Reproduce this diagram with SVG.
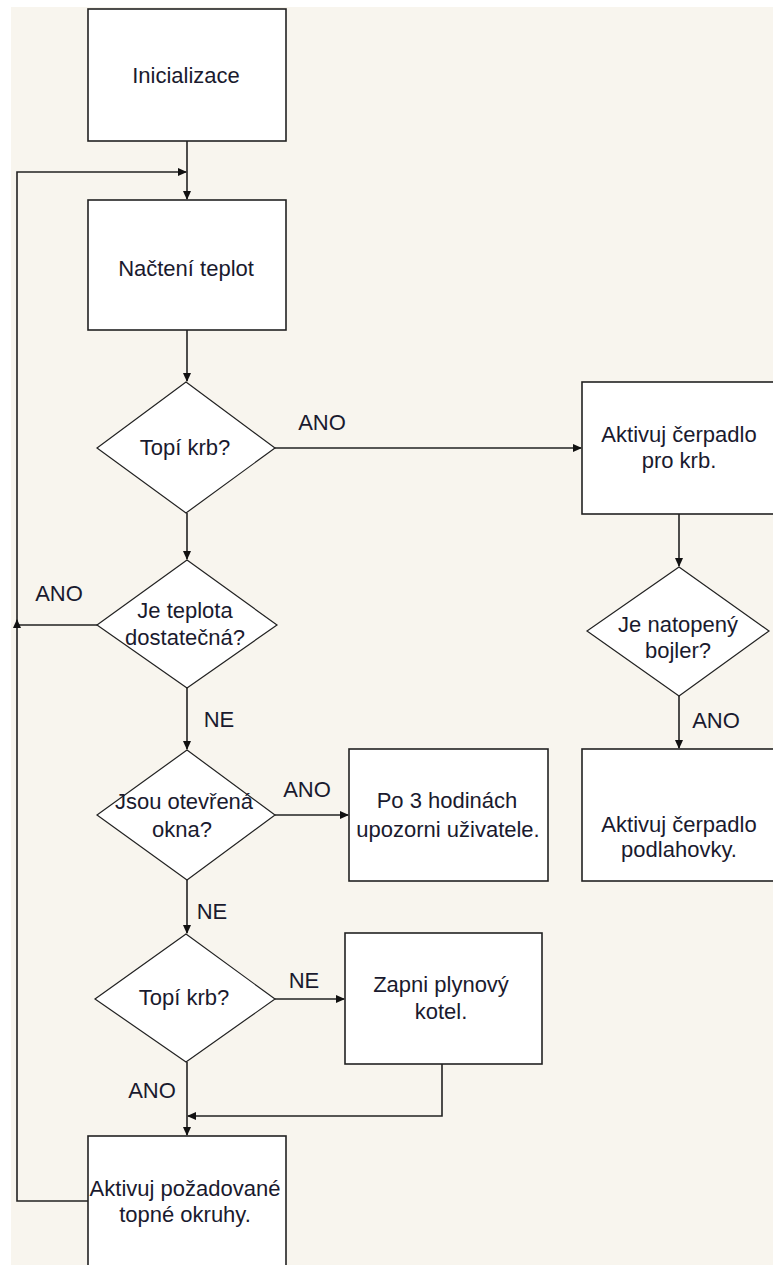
<svg xmlns="http://www.w3.org/2000/svg" width="773" height="1265" viewBox="0 0 773 1265">
<style>
.box{fill:#fff;stroke:#222;stroke-width:1.6}
.dia{fill:#fff;stroke:#222;stroke-width:1.2}
.ln{fill:none;stroke:#222;stroke-width:1.6}
text{font-family:"Liberation Sans",Arial,sans-serif;font-size:22px;fill:#1a1a2e;text-anchor:middle}
</style>
<defs>
<marker id="arr" markerUnits="userSpaceOnUse" markerWidth="11" markerHeight="11" refX="9" refY="5.5" orient="auto">
<path d="M1,1.5 L10,5.5 L1,9.5 Z" fill="#111"/>
</marker>
</defs>
<rect width="773" height="1265" fill="#fff"/>
<rect x="11" y="7" width="762" height="1258" fill="#f8f5ee"/>
<g id="connectors">
<path class="ln" d="M187,141 V199" marker-end="url(#arr)"/>
<path class="ln" d="M88,1201 H17 V172 H186" marker-end="url(#arr)"/>
<path class="ln" d="M187,330 V381" marker-end="url(#arr)"/>
<path class="ln" d="M275,448 H581" marker-end="url(#arr)"/>
<path class="ln" d="M187,513 V559" marker-end="url(#arr)"/>
<path class="ln" d="M97,625 H17 V620" marker-end="url(#arr)"/>
<path class="ln" d="M187,688 V749" marker-end="url(#arr)"/>
<path class="ln" d="M275,815 H348" marker-end="url(#arr)"/>
<path class="ln" d="M187,880 V933" marker-end="url(#arr)"/>
<path class="ln" d="M275,999 H344" marker-end="url(#arr)"/>
<path class="ln" d="M442,1064 V1116 H188" marker-end="url(#arr)"/>
<path class="ln" d="M187,1062 V1135" marker-end="url(#arr)"/>
<path class="ln" d="M679,514 V566" marker-end="url(#arr)"/>
<path class="ln" d="M679,696 V748" marker-end="url(#arr)"/>
<text x="322" y="430">ANO</text>
<text x="59" y="601">ANO</text>
<text x="219" y="727">NE</text>
<text x="307" y="797">ANO</text>
<text x="212" y="919">NE</text>
<text x="304" y="988">NE</text>
<text x="152" y="1098">ANO</text>
<text x="716" y="728">ANO</text>
</g>
<g id="n-init">
<rect class="box" x="88" y="9" width="198" height="132"/>
<text x="186" y="83">Inicializace</text>
</g>
<g id="n-nacteni">
<rect class="box" x="88" y="200" width="198" height="130"/>
<text x="186" y="276">Načtení teplot</text>
</g>
<g id="d-topi1">
<polygon class="dia" points="186,382 275,448 186,513 97,448"/>
<text x="185" y="455">Topí krb?</text>
</g>
<g id="d-teplota">
<polygon class="dia" points="187,560 277,625 187,688 97,625"/>
<text x="185" y="618">Je teplota</text>
<text x="185" y="645">dostatečná?</text>
</g>
<g id="d-okna">
<polygon class="dia" points="187,750 275,815 187,880 97,815"/>
<text x="184" y="809">Jsou otevřená</text>
<text x="182" y="837">okna?</text>
</g>
<g id="n-upozorni">
<rect class="box" x="349" y="749" width="199" height="132"/>
<text x="447" y="808">Po 3 hodinách</text>
<text x="448" y="837">upozorni uživatele.</text>
</g>
<g id="d-topi2">
<polygon class="dia" points="186,934 275,999 186,1062 95,999"/>
<text x="184" y="1005">Topí krb?</text>
</g>
<g id="n-kotel">
<rect class="box" x="345" y="933" width="197" height="131"/>
<text x="441" y="992">Zapni plynový</text>
<text x="441" y="1019">kotel.</text>
</g>
<g id="n-okruhy">
<rect class="box" x="88" y="1136" width="198" height="135"/>
<text x="185" y="1196">Aktivuj požadované</text>
<text x="185" y="1222">topné okruhy.</text>
</g>
<g id="n-cerpadlo-krb">
<rect class="box" x="582" y="382" width="198" height="132"/>
<text x="679" y="442">Aktivuj čerpadlo</text>
<text x="679" y="468">pro krb.</text>
</g>
<g id="d-bojler">
<polygon class="dia" points="679,567 769,631 679,696 587,631"/>
<text x="678" y="632">Je natopený</text>
<text x="678" y="658">bojler?</text>
</g>
<g id="n-podlahovky">
<rect class="box" x="582" y="749" width="198" height="132"/>
<text x="679" y="832">Aktivuj čerpadlo</text>
<text x="679" y="857">podlahovky.</text>
</g>
</svg>
